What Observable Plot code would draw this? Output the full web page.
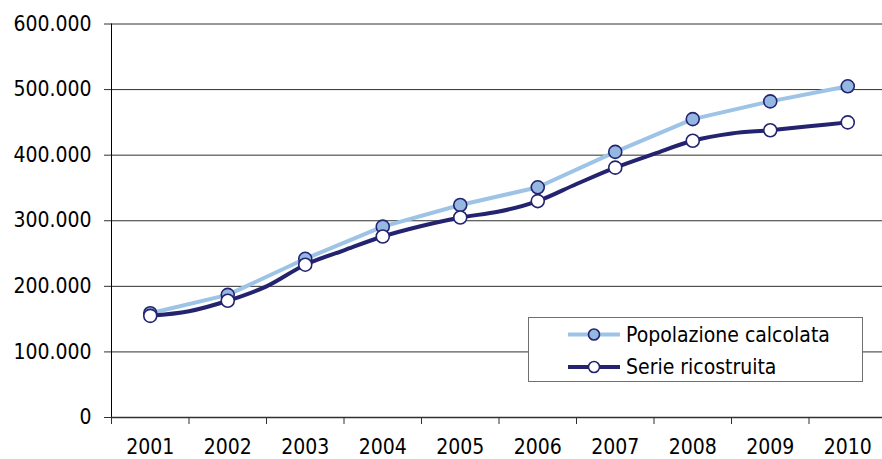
<!DOCTYPE html>
<html>
<head>
<meta charset="utf-8">
<script src="https://cdn.jsdelivr.net/npm/d3@7"></script>
<script src="https://cdn.jsdelivr.net/npm/@observablehq/plot@0.6"></script>
<style>
  html, body { margin: 0; padding: 0; background: #fff; }
  #chart { position: relative; width: 882px; height: 459px; }
</style>
</head>
<body>
<div id="chart"></div>
<script>
// ---- data ----
const years = [2001, 2002, 2003, 2004, 2005, 2006, 2007, 2008, 2009, 2010];
const popolazioneCalcolata = [159000, 187000, 242000, 291000, 324000, 351000, 405000, 455000, 482000, 505000];
const serieRicostruita = [155000, 178000, 233000, 276000, 305000, 330000, 381000, 422000, 438000, 450000];
// mid-year values of the reconstructed series (between markers)
const serieMidYears = [2001.5, 2002.5, 2003.5, 2004.5, 2005.5, 2006.5, 2007.5, 2008.5, 2009.5];
const serieMid = [162000, 200000, 255000, 292000, 314000, 356000, 402000, 433000, 444000];
const yTicks = [0, 100000, 200000, 300000, 400000, 500000, 600000];
const seriesNames = ["Popolazione calcolata", "Serie ricostruita"];

const FONT = '"DejaVu Sans Condensed", "DejaVu Sans", sans-serif';
const LIGHT = "#9dc3e6";
const LIGHT_FILL = "#95b8e3";
const NAVY = "#23236f";

const pop = years.map((y, i) => ({year: y, value: popolazioneCalcolata[i]}));
const serieAnnual = years.map((y, i) => ({year: y, value: serieRicostruita[i]}));
const serieLine = serieAnnual
  .concat(serieMidYears.map((y, i) => ({year: y, value: serieMid[i]})))
  .sort((a, b) => a.year - b.year);

const boundaries = d3.range(2000.5, 2011, 1);
const it = d3.formatLocale({decimal: ",", thousands: ".", grouping: [3], currency: ["", " €"]});
const fmt = it.format(",");

const chart = Plot.plot({
  width: 882,
  height: 459,
  marginLeft: 111,
  marginRight: -4,
  marginTop: 23.5,
  marginBottom: 42,
  style: {fontFamily: FONT, fontSize: "21px", color: "#000", background: "#fff"},
  x: {domain: [2000.5, 2010.5], label: null},
  y: {domain: [0, 600000], label: null},
  marks: [
    Plot.gridY(yTicks.slice(1), {stroke: "#303030", strokeOpacity: 1, strokeWidth: 1}),
    Plot.axisY(yTicks, {tickSize: 7, tickPadding: 13, tickFormat: fmt, stroke: "#303030", fill: "#000", fontSize: 21, label: null}),
    Plot.axisX(boundaries, {tickSize: 7, tickFormat: () => "", stroke: "#303030", label: null}),
    Plot.axisX(years, {tickSize: 0, tickPadding: 22, tickFormat: d => String(d), fill: "#000", fontSize: 21, label: null}),
    Plot.ruleX([2000.5], {stroke: "#000", strokeWidth: 1}),
    Plot.ruleY([0], {stroke: "#303030", strokeWidth: 1.5}),
    Plot.line(pop, {x: "year", y: "value", stroke: LIGHT, strokeWidth: 4, curve: "linear"}),
    Plot.dot(pop, {x: "year", y: "value", r: 6.5, fill: LIGHT_FILL, stroke: NAVY, strokeWidth: 1.6}),
    Plot.line(serieLine, {x: "year", y: "value", stroke: NAVY, strokeWidth: 4, curve: "catmull-rom"}),
    Plot.dot(serieAnnual, {x: "year", y: "value", r: 6.5, fill: "#fff", stroke: NAVY, strokeWidth: 1.6})
  ]
});

document.getElementById("chart").appendChild(chart);

// ---- legend (inside the svg) ----
const svg = d3.select(chart);
const lg = svg.append("g").attr("font-family", FONT).attr("font-size", 21).attr("text-anchor", "start");
lg.append("rect").attr("x", 528.5).attr("y", 317.5).attr("width", 334).attr("height", 64)
  .attr("fill", "#fff").attr("stroke", "#707070").attr("stroke-width", 1);
const rows = [
  {name: seriesNames[0], line: LIGHT, fill: LIGHT_FILL, y: 334.5},
  {name: seriesNames[1], line: NAVY, fill: "#fff", y: 367}
];
rows.forEach(r => {
  lg.append("line").attr("x1", 568).attr("x2", 620).attr("y1", r.y).attr("y2", r.y)
    .attr("stroke", r.line).attr("stroke-width", 4);
  lg.append("circle").attr("cx", 594).attr("cy", r.y).attr("r", 5.5)
    .attr("fill", r.fill).attr("stroke", NAVY).attr("stroke-width", 1.6);
  lg.append("text").attr("x", 626).attr("y", r.y).attr("dy", "0.35em")
    .attr("text-anchor", "start").attr("fill", "#000").text(r.name);
});
</script>
</body>
</html>
